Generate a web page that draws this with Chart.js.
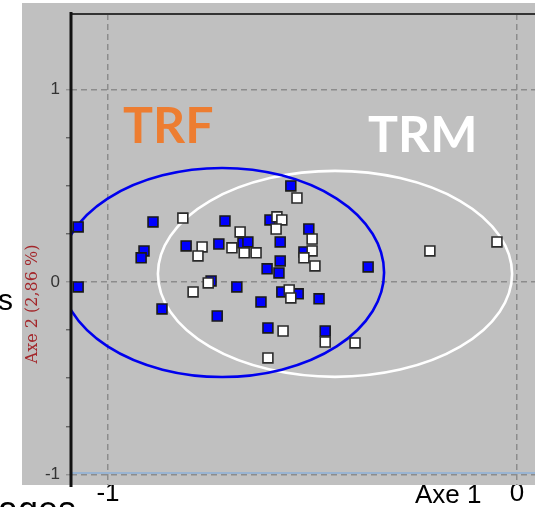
<!DOCTYPE html>
<html>
<head>
<meta charset="utf-8">
<script src="https://cdn.jsdelivr.net/npm/chart.js@4.4.1/dist/chart.umd.min.js"></script>
<style>
  html, body { margin: 0; padding: 0; background: #fff; overflow: hidden; }
  canvas { display: block; }
</style>
</head>
<body>
<canvas id="c" width="535" height="507"></canvas>
<script>
// Factor scores of the individuals on the first two axes
const trfAxe1 = [-1.073, -1.073, -0.890, -0.912, -0.919, -0.868, -0.809, -0.729, -0.714, -0.670,
                 -0.658, -0.748, -0.685, -0.733, -0.626, -0.611, -0.609, -0.604, -0.579, -0.579,
                 -0.582, -0.553, -0.575, -0.535, -0.509, -0.521, -0.484, -0.469, -0.364];
const trfAxe2 = [ 0.286, -0.026,  0.312,  0.161,  0.125, -0.140,  0.187,  0.197,  0.317,  0.203,
                  0.208,  0.005, -0.026, -0.177, -0.104,  0.068, -0.239,  0.322,  0.208,  0.109,
                  0.047,  0.499, -0.052, -0.062,  0.275,  0.156, -0.088, -0.255,  0.078];
const trmAxe1 = [-0.817, -0.770, -0.780, -0.792, -0.755, -0.697, -0.677, -0.667, -0.638, -0.609,
                 -0.587, -0.575, -0.589, -0.572, -0.557, -0.553, -0.538, -0.501, -0.501, -0.521,
                 -0.494, -0.469, -0.396, -0.213, -0.049];
const trmAxe2 = [ 0.332,  0.182,  0.135, -0.052, -0.005,  0.177,  0.260,  0.151,  0.151, -0.395,
                  0.338,  0.322,  0.275, -0.255, -0.042, -0.083,  0.436,  0.223,  0.161,  0.125,
                  0.083, -0.312, -0.317,  0.161,  0.208];

// Group ellipses: centre on axe 1, centre on axe 2, half-width, half-height
const trfEllipse = [-0.721, 0.049, 0.396, 0.543];
const trmEllipse = [-0.445, 0.042, 0.433, 0.535];

const groupNames = ['TRF', 'TRM'];
const axisTitles = ['Axe 1', 'Axe 2 (2,86 %)'];
const xTickValues = [-1, 0];
const yTickValues = [-1, -0.75, -0.5, -0.25, 0, 0.25, 0.5, 0.75, 1];

const toPoints = (xs, ys) => xs.map((x, i) => ({ x: x, y: ys[i] }));

const GRID = '#8c8c8c';

// Grey panel behind the plot
const backdrop = {
  id: 'backdrop',
  beforeDraw(chart) {
    const ctx = chart.ctx;
    ctx.save();
    ctx.fillStyle = '#ffffff';
    ctx.fillRect(0, 0, chart.width, chart.height);
    ctx.fillStyle = '#c0c0c0';
    ctx.fillRect(22, 3, chart.width - 22, 482);
    ctx.restore();
  }
};

// Group ellipses, placed through the scales
const ellipses = {
  id: 'ellipses',
  beforeDatasetsDraw(chart) {
    const { ctx, chartArea, scales: { x, y } } = chart;
    const draw = (e, color) => {
      const cx = x.getPixelForValue(e[0]);
      const cy = y.getPixelForValue(e[1]);
      const rx = Math.abs(x.getPixelForValue(e[0] + e[2]) - cx);
      const ry = Math.abs(y.getPixelForValue(e[1] + e[3]) - cy);
      ctx.beginPath();
      ctx.ellipse(cx, cy, rx, ry, 0, 0, Math.PI * 2);
      ctx.strokeStyle = color;
      ctx.lineWidth = 2.6;
      ctx.stroke();
    };
    ctx.save();
    ctx.beginPath();
    ctx.rect(chartArea.left, chartArea.top, chartArea.right - chartArea.left, chartArea.bottom - chartArea.top);
    ctx.clip();
    draw(trmEllipse, '#ffffff');
    draw(trfEllipse, '#0000ee');
    ctx.restore();
  }
};

// Frame lines, titles and group names
const annotations = {
  id: 'annotations',
  afterDraw(chart) {
    const { ctx, chartArea, scales: { y } } = chart;
    ctx.save();

    // top frame
    ctx.strokeStyle = '#333333';
    ctx.lineWidth = 2;
    ctx.beginPath();
    ctx.moveTo(chartArea.left, chartArea.top);
    ctx.lineTo(chartArea.right, chartArea.top);
    ctx.stroke();

    // light blue line along axe 2 = -1
    const yb = y.getPixelForValue(-1) - 1.5;
    ctx.strokeStyle = '#8db0d8';
    ctx.lineWidth = 1.5;
    ctx.beginPath();
    ctx.moveTo(chartArea.left, yb);
    ctx.lineTo(chartArea.right, yb);
    ctx.stroke();

    // vertical axis line
    ctx.strokeStyle = '#111111';
    ctx.lineWidth = 3;
    ctx.beginPath();
    ctx.moveTo(chartArea.left, chartArea.top - 2);
    ctx.lineTo(chartArea.left, chartArea.bottom + 2);
    ctx.stroke();

    // axe 2 title
    ctx.save();
    ctx.translate(33, 304);
    ctx.rotate(-Math.PI / 2);
    ctx.font = '16px "DejaVu Serif"';
    ctx.fillStyle = '#a3262a';
    ctx.textAlign = 'center';
    ctx.textBaseline = 'middle';
    ctx.fillText(axisTitles[1], 0, 0);
    ctx.restore();

    // axe 1 title
    ctx.font = '26px "Liberation Sans"';
    ctx.fillStyle = '#000000';
    ctx.textAlign = 'left';
    ctx.textBaseline = 'alphabetic';
    ctx.fillText(axisTitles[0], 415, 503);

    // group names
    ctx.font = 'bold 50px Lato';
    ctx.fillStyle = '#ED7D31';
    ctx.fillText(groupNames[0], 123, 143);
    ctx.fillStyle = '#ffffff';
    ctx.fillText(groupNames[1], 368, 152);

    // surrounding slide text
    ctx.fillStyle = '#000000';
    ctx.font = '30px "Liberation Sans"';
    ctx.textAlign = 'right';
    ctx.fillText('s', 13, 310);
    ctx.font = '36px "Liberation Sans"';
    ctx.textAlign = 'left';
    ctx.fillText('ages', -2, 522);

    ctx.restore();
  }
};

new Chart(document.getElementById('c'), {
  type: 'scatter',
  data: {
    datasets: [
      {
        label: groupNames[1],
        data: toPoints(trmAxe1, trmAxe2),
        pointStyle: 'rect',
        pointRadius: 7,
        backgroundColor: '#ffffff',
        borderColor: '#2a2a2a',
        borderWidth: 1.6,
        order: 1
      },
      {
        label: groupNames[0],
        data: toPoints(trfAxe1, trfAxe2),
        pointStyle: 'rect',
        pointRadius: 7,
        backgroundColor: '#0000ff',
        borderColor: '#1a1a1a',
        borderWidth: 1.6,
        order: 2
      }
    ]
  },
  options: {
    responsive: false,
    animation: false,
    devicePixelRatio: 1,
    layout: { autoPadding: false, padding: { top: 14, left: 0, right: 0, bottom: 0 } },
    plugins: { legend: { display: false }, tooltip: { enabled: false } },
    scales: {
      x: {
        type: 'linear',
        min: -1.0905,
        max: 0.044,
        afterBuildTicks: s => { s.ticks = xTickValues.map(v => ({ value: v })); },
        afterFit: s => { s.height = 22; s.paddingLeft = 0; s.paddingRight = 0; },
        border: { display: false, dash: [6, 4] },
        grid: { color: GRID, lineWidth: 1.5, drawTicks: false },
        ticks: {
          padding: -7,
          color: '#000000',
          font: { family: 'Liberation Sans', size: 26 },
          maxRotation: 0,
          callback: v => String(v)
        }
      },
      y: {
        type: 'linear',
        min: -1.055,
        max: 1.392,
        afterBuildTicks: s => { s.ticks = yTickValues.map(v => ({ value: v })); },
        afterFit: s => { s.width = 71; s.paddingTop = 0; s.paddingBottom = 0; },
        border: { display: false, dash: [6, 4] },
        grid: {
          color: c => Number.isInteger(c.tick.value) ? GRID : 'rgba(0,0,0,0)',
          tickColor: c => Number.isInteger(c.tick.value) ? GRID : '#555555',
          lineWidth: 1.5,
          tickLength: 5,
          tickWidth: 1.2
        },
        ticks: {
          padding: 6,
          color: '#333333',
          font: { family: 'Liberation Sans', size: 17 },
          callback: v => Number.isInteger(v) ? String(v) : ''
        }
      }
    }
  },
  plugins: [backdrop, ellipses, annotations]
});
</script>
</body>
</html>
